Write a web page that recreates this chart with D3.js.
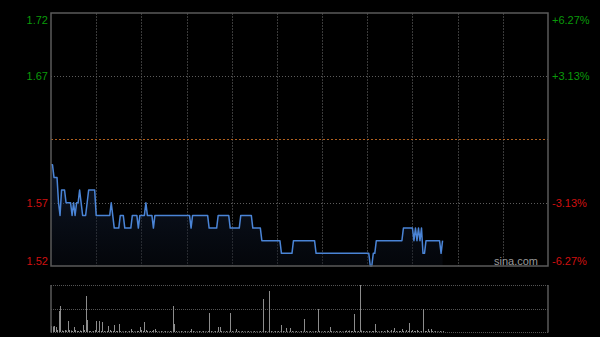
<!DOCTYPE html>
<html>
<head>
<meta charset="utf-8">
<script src="https://cdn.jsdelivr.net/npm/d3@7"></script>
<style>
  body { margin: 0; background: #000; }
  svg { display: block; font-family: Arial, "Liberation Sans", sans-serif; }
</style>
</head>
<body>
<script>
// minute prices, 9:30 onwards (lunch break skipped)
const prices = [
  1.60,1.60,1.59,1.59,1.59,1.57,1.56,1.58,1.58,1.58,1.57,1.57,1.57,1.57,1.56,1.57,1.56,1.57,1.57,1.58,
  1.57,1.56,1.56,1.56,1.57,1.58,1.58,1.58,1.58,1.58,1.56,1.56,1.56,1.56,1.56,1.56,1.56,1.56,1.56,1.56,
  1.57,1.56,1.55,1.55,1.55,1.55,1.56,1.56,1.56,1.55,1.55,1.55,1.55,1.55,1.56,1.56,1.56,1.56,1.55,1.56,
  1.56,1.56,1.56,1.57,1.56,1.56,1.56,1.56,1.55,1.56,1.56,1.56,1.56,1.56,1.56,1.56,1.56,1.56,1.56,1.56,
  1.56,1.56,1.56,1.56,1.56,1.56,1.56,1.56,1.56,1.56,1.56,1.56,1.56,1.55,1.56,1.56,1.56,1.56,1.56,1.56,
  1.56,1.56,1.56,1.56,1.56,1.55,1.55,1.55,1.55,1.55,1.55,1.56,1.56,1.56,1.56,1.56,1.56,1.56,1.56,1.55,
  1.55,1.55,1.55,1.55,1.55,1.55,1.56,1.56,1.56,1.56,1.56,1.56,1.56,1.56,1.55,1.55,1.55,1.55,1.55,1.55,
  1.54,1.54,1.54,1.54,1.54,1.54,1.54,1.54,1.54,1.54,1.54,1.54,1.54,1.53,1.53,1.53,1.53,1.53,1.53,1.53,
  1.53,1.54,1.54,1.54,1.54,1.54,1.54,1.54,1.54,1.54,1.54,1.54,1.54,1.54,1.54,1.54,1.53,1.53,1.53,1.53,
  1.53,1.53,1.53,1.53,1.53,1.53,1.53,1.53,1.53,1.53,1.53,1.53,1.53,1.53,1.53,1.53,1.53,1.53,1.53,1.53,
  1.53,1.53,1.53,1.53,1.53,1.53,1.53,1.53,1.53,1.53,1.53,1.53,1.52,1.52,1.53,1.53,1.54,1.54,1.54,1.54,
  1.54,1.54,1.54,1.54,1.54,1.54,1.54,1.54,1.54,1.54,1.54,1.54,1.54,1.54,1.55,1.55,1.55,1.55,1.55,1.55,
  1.55,1.54,1.55,1.54,1.55,1.54,1.55,1.53,1.53,1.54,1.54,1.54,1.54,1.54,1.54,1.54,1.54,1.54,1.54,1.53,
  1.54
];

// minute volumes (same minutes as prices)
const volumes = [
  60,55,60,50,20,210,260,15,10,20,15,110,20,15,10,50,20,10,10,15,
  10,70,20,360,120,10,10,5,10,20,110,10,110,10,100,10,5,10,60,20,
  10,10,70,10,10,80,10,5,5,10,5,5,10,30,10,5,5,10,10,50,
  20,10,100,20,10,5,10,10,20,30,10,5,5,10,5,5,10,5,5,10,
  5,260,80,10,5,5,10,5,5,10,5,5,10,30,10,5,5,5,10,5,
  5,10,5,5,10,190,10,5,5,10,5,50,50,10,5,5,10,5,5,190,
  10,5,5,30,10,5,5,10,5,5,5,10,5,5,5,10,5,5,5,10,
  5,330,10,5,5,410,10,5,5,10,5,10,5,70,10,5,40,5,5,40,
  10,5,5,10,5,5,10,5,130,10,5,5,10,5,5,10,5,230,10,5,
  5,10,5,5,10,50,10,5,5,10,5,5,10,5,5,10,15,10,15,10,
  10,180,10,5,10,470,15,10,5,10,5,10,5,10,10,80,10,5,5,10,
  5,10,5,20,10,5,20,10,40,10,5,10,10,30,10,5,20,10,90,10,
  20,10,10,20,10,5,10,230,10,10,30,10,30,10,5,10,5,5,10,5,
  10
];

const prevClose = 1.62;
const priceTicks = [1.72, 1.67, 1.57, 1.52];
const pctLabels = ['+6.27%', '+3.13%', '-3.13%', '-6.27%'];
const totalMinutes = 330;
const gridMinutes = [30, 60, 90, 120, 150, 180, 210, 240, 270, 300];

const svgW = 600, svgH = 337;
const pLeft = 51, pRight = 548;
const pTop = 13, pBottom = 266;
const vTop = 285, vBottom = 332;

const svg = d3.select('body').append('svg').attr('width', svgW).attr('height', svgH);

const x = d3.scaleLinear().domain([0, totalMinutes]).range([pLeft, pRight]);
const y = d3.scaleLinear().domain([1.52, 1.72]).range([pBottom, pTop]);
const yv = d3.scaleLinear().domain([0, d3.max(volumes)]).range([vBottom, vTop]);

const data = prices.map((p, i) => ({m: i, p: p, v: volumes[i]}));

// vertical grid (price panel only)
svg.append('g').selectAll('line').data(gridMinutes).enter().append('line')
  .attr('x1', d => Math.round(x(d)) + 0.5).attr('x2', d => Math.round(x(d)) + 0.5)
  .attr('y1', pTop).attr('y2', pBottom)
  .attr('stroke', '#3a3a3a').attr('stroke-dasharray', '2,1');

// horizontal grid
svg.append('g').selectAll('line').data([1.67, 1.57]).enter().append('line')
  .attr('x1', pLeft).attr('x2', pRight)
  .attr('y1', d => Math.round(y(d)) + 0.5).attr('y2', d => Math.round(y(d)) + 0.5)
  .attr('stroke', '#5c5c5c').attr('stroke-dasharray', '1,2');

// previous close
svg.append('line')
  .attr('x1', pLeft).attr('x2', pRight)
  .attr('y1', Math.round(y(prevClose)) + 0.5).attr('y2', Math.round(y(prevClose)) + 0.5)
  .attr('stroke', '#b0601f').attr('stroke-dasharray', '2,2');

// area + line
const grad = svg.append('defs').append('linearGradient').attr('id', 'ag')
  .attr('x1', 0).attr('y1', 0).attr('x2', 0).attr('y2', 1);
grad.append('stop').attr('offset', '0%').attr('stop-color', '#1a2b4a').attr('stop-opacity', 0.55);
grad.append('stop').attr('offset', '100%').attr('stop-color', '#0a0f1a').attr('stop-opacity', 0.4);

const area = d3.area().x(d => x(d.m)).y0(pBottom).y1(d => y(d.p));
svg.append('path').attr('d', area(data)).attr('fill', 'url(#ag)');

const line = d3.line().x(d => x(d.m)).y(d => y(d.p));
svg.append('path').attr('d', line(data))
  .attr('fill', 'none').attr('stroke', '#4a84d6').attr('stroke-width', 1.5)
  .attr('stroke-linejoin', 'round');

// price panel border
svg.append('rect').attr('x', pLeft).attr('y', pTop)
  .attr('width', pRight - pLeft).attr('height', pBottom - pTop)
  .attr('fill', 'none').attr('stroke', '#5a5a5a').attr('stroke-width', 1.5);

// left price axis
const yAxisL = d3.axisLeft(y).tickValues(priceTicks).tickSize(0).tickPadding(3)
  .tickFormat(d3.format('.2f'));
const gL = svg.append('g').attr('transform', `translate(${pLeft},0)`).call(yAxisL);
gL.select('.domain').remove();
gL.selectAll('text')
  .attr('font-size', 11).attr('font-family', 'Arial, "Liberation Sans", sans-serif')
  .attr('fill', d => d > prevClose ? '#0a9a0a' : '#d01010')
  .attr('dy', d => d === 1.72 ? '0.95em' : d === 1.52 ? '-0.15em' : '0.32em');

// right percent axis
const yAxisR = d3.axisRight(y).tickValues(priceTicks).tickSize(0).tickPadding(4)
  .tickFormat((d, i) => pctLabels[i]);
const gR = svg.append('g').attr('transform', `translate(${pRight},0)`).call(yAxisR);
gR.select('.domain').remove();
gR.selectAll('text')
  .attr('font-size', 11).attr('font-family', 'Arial, "Liberation Sans", sans-serif')
  .attr('fill', d => d > prevClose ? '#0a9a0a' : '#d01010')
  .attr('dy', d => d === 1.72 ? '0.95em' : d === 1.52 ? '-0.15em' : '0.32em');

// watermark
svg.append('text').text('sina.com')
  .attr('x', 538).attr('y', 265).attr('text-anchor', 'end')
  .attr('font-size', 11).attr('fill', '#9a9a9a');

// volume panel
svg.append('g').selectAll('line').data([vTop, (vTop + vBottom) / 2, vBottom]).enter().append('line')
  .attr('x1', pLeft).attr('x2', pRight)
  .attr('y1', d => Math.round(d) + 0.5).attr('y2', d => Math.round(d) + 0.5)
  .attr('stroke', '#555').attr('stroke-dasharray', '1,1');

svg.append('g').selectAll('line').data(data).enter().append('line')
  .attr('x1', d => Math.round(x(d.m)) + 0.5).attr('x2', d => Math.round(x(d.m)) + 0.5)
  .attr('y1', vBottom).attr('y2', d => yv(d.v))
  .attr('stroke', '#8c8c8c').attr('stroke-width', 1);

svg.append('g').selectAll('line').data([pLeft, pRight]).enter().append('line')
  .attr('x1', d => d).attr('x2', d => d)
  .attr('y1', vTop).attr('y2', vBottom + 0.5)
  .attr('stroke', '#5a5a5a').attr('stroke-width', 1.5);
</script>
</body>
</html>
